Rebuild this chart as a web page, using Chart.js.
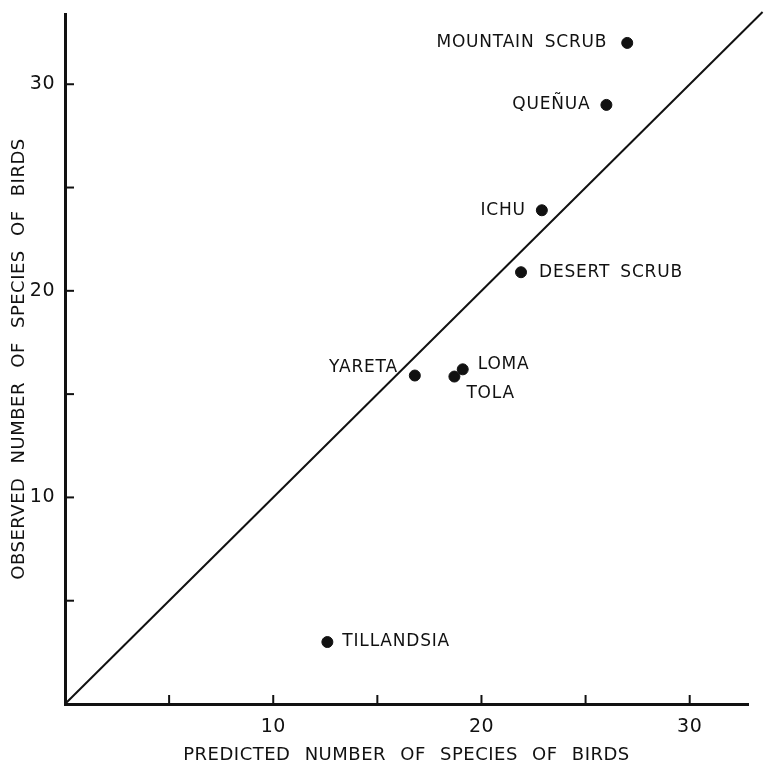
<!DOCTYPE html>
<html>
<head>
<meta charset="utf-8">
<script src="https://cdn.jsdelivr.net/npm/chart.js@4.4.1/dist/chart.umd.min.js"></script>
<style>
  html, body { margin: 0; padding: 0; background: #fff; }
  #wrap { width: 765px; height: 766px; }
</style>
</head>
<body>
<div id="wrap"><canvas id="chart"></canvas></div>
<script>
// habitat names and predicted / observed bird species counts
const sites = ['MOUNTAIN SCRUB', 'QUEÑUA', 'ICHU', 'DESERT SCRUB', 'YARETA', 'LOMA', 'TOLA', 'TILLANDSIA'];
const predicted = [27.0, 26.0, 22.9, 21.9, 16.8, 19.1, 18.7, 12.6];
const observed = [32.0, 29.0, 23.9, 20.9, 15.9, 16.2, 15.85, 3.0];

// 1:1 reference line (runs a little past the end of the x axis)
const lineX = [0, 33.5];
const lineY = [0, 33.5];

// tick marks every 5, labels only on some of them
const tickValues = [0, 5, 10, 15, 20, 25, 30];
const labelledTicks = [10, 20, 30];

// where each name sits relative to its dot (px)
const labelPlacement = {
  'MOUNTAIN SCRUB': { dx: -20, dy: 0, align: 'right' },
  'QUEÑUA': { dx: -16, dy: 0, align: 'right' },
  'ICHU': { dx: -16, dy: 0, align: 'right' },
  'DESERT SCRUB': { dx: 18, dy: 0, align: 'left' },
  'YARETA': { dx: -17, dy: -8, align: 'right' },
  'LOMA': { dx: 15, dy: -5, align: 'left' },
  'TOLA': { dx: 12, dy: 17, align: 'left' },
  'TILLANDSIA': { dx: 15, dy: 0, align: 'left' }
};

const INK = '#111';
const FONT = "'DejaVu Sans', sans-serif";

const textSpacing = {
  id: 'textSpacing',
  beforeDraw(chart) {
    chart.ctx.wordSpacing = '8px';
    chart.ctx.letterSpacing = '0.5px';
  }
};

// short ticks pointing into the plot, like the original figure
const inwardTicks = {
  id: 'inwardTicks',
  afterDatasetsDraw(chart) {
    const { ctx, chartArea, scales: { x, y } } = chart;
    ctx.save();
    ctx.strokeStyle = INK;
    ctx.lineWidth = 2;
    x.ticks.forEach(t => {
      if (t.value === 0) return;
      const px = x.getPixelForValue(t.value);
      ctx.beginPath();
      ctx.moveTo(px, chartArea.bottom);
      ctx.lineTo(px, chartArea.bottom - 9);
      ctx.stroke();
    });
    y.ticks.forEach(t => {
      if (t.value === 0) return;
      const py = y.getPixelForValue(t.value);
      ctx.beginPath();
      ctx.moveTo(chartArea.left, py);
      ctx.lineTo(chartArea.left + 9, py);
      ctx.stroke();
    });
    ctx.restore();
  }
};

const siteLabels = {
  id: 'siteLabels',
  afterDatasetsDraw(chart) {
    const { ctx } = chart;
    const meta = chart.getDatasetMeta(1);
    ctx.save();
    ctx.fillStyle = INK;
    ctx.font = '17px ' + FONT;
    ctx.letterSpacing = '0.8px';
    ctx.wordSpacing = '4px';
    ctx.textBaseline = 'middle';
    meta.data.forEach((pt, i) => {
      const name = sites[i];
      const p = labelPlacement[name];
      ctx.textAlign = p.align;
      ctx.fillText(name, pt.x + p.dx, pt.y + p.dy);
    });
    ctx.restore();
  }
};

const setTicks = s => { s.ticks = tickValues.map(v => ({ value: v })); };

new Chart(document.getElementById('chart'), {
  type: 'scatter',
  plugins: [textSpacing, inwardTicks, siteLabels],
  data: {
    datasets: [
      {
        type: 'line',
        data: lineX.map((v, i) => ({ x: v, y: lineY[i] })),
        borderColor: INK,
        borderWidth: 2,
        pointRadius: 0,
        fill: false,
        clip: false
      },
      {
        data: predicted.map((v, i) => ({ x: v, y: observed[i] })),
        backgroundColor: INK,
        borderColor: INK,
        pointRadius: 5.5,
        pointHoverRadius: 5.5
      }
    ]
  },
  options: {
    responsive: true,
    maintainAspectRatio: false,
    animation: false,
    layout: { padding: { top: 14, right: 17, left: 0, bottom: 0 } },
    plugins: {
      legend: { display: false },
      tooltip: { enabled: false }
    },
    scales: {
      x: {
        type: 'linear',
        min: 0,
        max: 32.8,
        afterBuildTicks: setTicks,
        afterFit: s => { s.height = 62; s.paddingLeft = 0; s.paddingRight = 0; },
        grid: { display: false, drawTicks: false },
        border: { display: true, color: INK, width: 3 },
        ticks: {
          padding: 12,
          color: INK,
          font: { family: FONT, size: 19 },
          callback: v => labelledTicks.includes(v) ? String(v) : ''
        },
        title: {
          display: true,
          text: 'PREDICTED NUMBER OF SPECIES OF BIRDS',
          color: INK,
          font: { family: FONT, size: 18 },
          padding: { top: 0, bottom: 0 }
        }
      },
      y: {
        type: 'linear',
        min: 0,
        max: 33.4,
        afterBuildTicks: setTicks,
        afterFit: s => { s.width = 65; s.paddingTop = 0; s.paddingBottom = 0; },
        grid: { display: false, drawTicks: false },
        border: { display: true, color: INK, width: 3 },
        ticks: {
          padding: 10,
          color: INK,
          font: { family: FONT, size: 19 },
          callback: v => labelledTicks.includes(v) ? String(v) : ''
        },
        title: {
          display: true,
          text: 'OBSERVED NUMBER OF SPECIES OF BIRDS',
          color: INK,
          font: { family: FONT, size: 18 },
          padding: { top: 9, bottom: 0 }
        }
      }
    }
  }
});
</script>
</body>
</html>
